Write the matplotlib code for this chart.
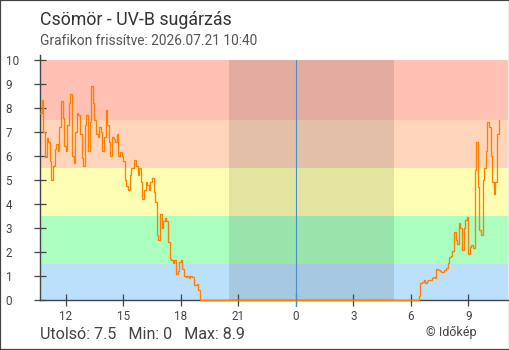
import numpy as np
import matplotlib
matplotlib.use("Agg")
import matplotlib.pyplot as plt
from matplotlib.patches import Rectangle

plt.rcParams['font.family'] = ['Roboto', 'DejaVu Sans']

# ---- data ----
title = "Csömör - UV-B sugárzás"
subtitle = "Grafikon frissítve: 2026.07.21 10:40"
stats_text = "Utolsó: 7.5  Min: 0  Max: 8.9"
credit = "© Időkép"

tick_hours = [12, 15, 18, 21, 24, 27, 30, 33]
tick_labels = ["12", "15", "18", "21", "0", "3", "6", "9"]
y_ticks = [0, 1, 2, 3, 4, 5, 6, 7, 8, 9, 10]

# 5-minute readings, day 1 starting 10:40
day1_start = 10 + 40 / 60
day1_uv = [7.8, 8.35, 7.0, 5.95, 6.75, 6.6, 5.8, 5.0, 5.6, 6.3,
           6.5, 6.2, 7.2, 8.3, 7.6, 6.4, 6.2, 7.3, 8.2, 8.6,
           6.0, 5.7, 7.0, 7.8, 7.7, 6.9, 5.9, 5.6, 7.3, 7.7,
           6.2, 7.4, 8.9, 8.2, 7.5, 6.9, 6.8, 7.2, 7.0, 6.2,
           6.8, 7.9, 7.3, 6.6, 6.0, 6.8, 6.7, 6.6, 6.9, 6.0,
           6.15, 6.0, 5.8, 5.0, 4.75, 4.6, 5.2, 5.5, 5.5, 5.85,
           5.6, 5.2, 5.5, 4.9, 4.2, 4.6, 4.9, 4.8, 4.6, 4.9,
           5.1, 4.5, 4.1, 2.7, 2.5, 3.6, 3.0, 3.3, 3.4, 3.3,
           2.4, 1.7, 1.65, 1.55, 1.65, 1.1, 1.2, 1.6, 1.65, 1.3,
           1.0, 0.95, 1.0, 0.92, 1.0, 0.97, 0.63, 0.62, 0.67, 0.42,
           0.0]
# 5-minute readings, day 2 starting 06:25 (hours counted from day-1 midnight)
day2_start = 24 + 6 + 25 / 60
day2_uv = [0.17, 0.7, 0.76, 0.83, 0.72, 0.78, 0.83, 0.85, 0.9, 0.97,
           0.9, 1.3, 1.25, 1.2, 1.18, 1.18, 1.25, 1.32, 1.55, 1.8,
           1.85, 2.05, 2.85, 2.5, 2.35, 3.2, 3.0, 2.1, 3.0, 3.35,
           3.45, 1.9, 2.2, 2.3, 2.15, 5.4, 6.6, 4.7, 2.9, 2.7,
           5.0, 5.5, 6.2, 7.4, 7.2, 6.0, 4.9, 4.4, 4.9, 6.9,
           7.5]
step_min = 5

bands = [(0, 1.5, '#bbe0fc'), (1.5, 3.5, '#aaffbf'), (3.5, 5.5, '#ffffb4'),
         (5.5, 7.5, '#ffd6bc'), (7.5, 10, '#ffc1b4')]
night_start = 20.54
night_end = 29.10
midnight = 24

# ---- figure ----
W, H = 510, 350
fig = plt.figure(figsize=(W / 100, H / 100), dpi=100)
ax_left, ax_right, ax_top, ax_bottom = 40, 508.5, 55, 300
ax = fig.add_axes([ax_left / W, 1 - ax_bottom / H, (ax_right - ax_left) / W,
                   (ax_bottom - ax_top) / H])
px_per_h = (468.3 - 65.7) / 21
x0 = 12 + (ax_left - 65.7) / px_per_h
x1 = 12 + (ax_right - 65.7) / px_per_h
ax.set_xlim(x0, x1)
ax.set_ylim(0, 10 * (ax_bottom - ax_top) / 240)
ymax_frac = 10 / ax.get_ylim()[1]

for lo, hi, c in bands:
    ax.axhspan(lo, hi, color=c, lw=0, zorder=0)
ax.axvspan(night_start, night_end, ymin=0, ymax=ymax_frac, color='black',
           alpha=0.105, lw=0, zorder=1)
ax.axvline(midnight, ymin=-6 / 245, ymax=ymax_frac, color='#4a8fc8', lw=0.8,
           zorder=2, clip_on=False)

t1 = day1_start + np.arange(len(day1_uv)) * step_min / 60
t2 = day2_start + np.arange(len(day2_uv)) * step_min / 60
t = np.concatenate([t1, t2])
v = np.concatenate([day1_uv, day2_uv])
ax.plot(t, v, drawstyle='steps-post', color='#ff8000', lw=0.95, zorder=5,
        clip_on=False, solid_joinstyle='miter')

for s in ['top', 'right']:
    ax.spines[s].set_visible(False)
for s in ['left', 'bottom']:
    ax.spines[s].set_color('#444444')
    ax.spines[s].set_linewidth(1.0)
    ax.spines[s].set_zorder(4)

ax.set_xticks(tick_hours)
ax.set_xticklabels(tick_labels)
ax.set_yticks(y_ticks)
ax.set_yticklabels([str(y) for y in y_ticks])
ax.tick_params(axis='both', direction='inout', length=8.6, width=0.9,
               color='#444444', labelcolor='#444444', labelsize=8.4)
ax.tick_params(axis='x', pad=3.0)
ax.tick_params(axis='y', pad=20.5)
for lab in ax.get_yticklabels():
    lab.set_horizontalalignment('left')

fig.text(40 / W, 1 - 25 / H, title, fontsize=12.8, color='#333333', va='baseline')
fig.text(40 / W, 1 - 45 / H, subtitle, fontsize=9.9, color='#555555', va='baseline')
fig.text(40 / W, 1 - 339 / H, stats_text.replace("  ", "   "), fontsize=11.6,
         color='#444444', va='baseline')
fig.text(426 / W, 1 - 336 / H, credit, fontsize=9.0, color='#444444', va='baseline')

fig.patches.append(Rectangle((0, 0), 1, 1, transform=fig.transFigure, fill=False,
                             edgecolor='#444444', lw=1.6))

fig.savefig('out.png', dpi=100)
